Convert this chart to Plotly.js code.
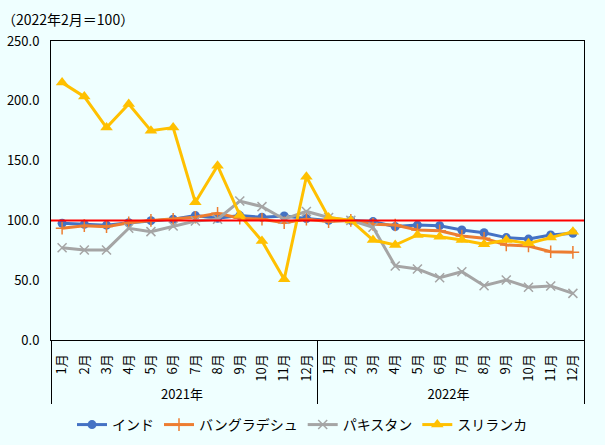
<!DOCTYPE html>
<html>
<head>
<meta charset="utf-8">
<script src="https://cdn.plot.ly/plotly-3.0.1.min.js"></script>
<style>
  body { margin: 0; padding: 0; background: #EFFFFF; }
  #chart { width: 605px; height: 445px; }
</style>
</head>
<body>
<div id="chart"></div>
<script>
// 月・年のカテゴリ
const months = ['1月','2月','3月','4月','5月','6月','7月','8月','9月','10月','11月','12月'];
const years = ['2021年', '2022年'];

// 指数（2022年2月＝100）
const india      = [97.6, 96.7, 96.0, 98.0, 99.8, 101.0, 104.0, 101.8, 104.0, 102.6, 103.7, 101.5,
                    100.0, 100.0, 99.0, 94.8, 96.1, 95.6, 92.0, 89.7, 85.6, 84.4, 87.8, 89.2];
const bangladesh = [93.4, 95.6, 94.8, 98.0, 100.0, 101.0, 102.6, 106.0, 101.8, 101.0, 98.0, 101.0,
                    99.0, 100.0, 96.7, 96.1, 92.0, 91.4, 87.0, 85.0, 79.4, 78.6, 73.8, 73.3];
const pakistan   = [77.2, 75.3, 75.3, 93.4, 90.6, 95.3, 99.5, 101.0, 116.2, 111.5, 101.0, 107.5,
                    102.5, 100.0, 94.2, 61.9, 59.4, 52.1, 57.1, 45.4, 50.2, 44.1, 45.2, 39.0];
const srilanka   = [215.2, 203.5, 177.6, 197.3, 175.0, 177.6, 115.1, 145.7, 104.5, 82.8, 50.7, 136.5,
                    102.5, 100.0, 83.6, 79.4, 87.8, 86.4, 83.6, 80.0, 83.6, 80.8, 85.6, 90.6];

const seriesNames = ['インド', 'バングラデシュ', 'パキスタン', 'スリランカ'];

// multicategory 用の x 軸
const xYears = [];
const xMonths = [];
years.forEach(function (y) {
  months.forEach(function (m) {
    xYears.push(y);
    xMonths.push(m);
  });
});
const xcat = [xYears, xMonths];

const FONT = '"Noto Sans CJK JP", "DejaVu Sans", sans-serif';

var data = [
  {
    x: xcat, y: india, name: seriesNames[0], mode: 'lines+markers',
    line: { color: '#4472C4', width: 3 },
    marker: { symbol: 'circle', size: 9, color: '#4472C4' }
  },
  {
    x: xcat, y: bangladesh, name: seriesNames[1], mode: 'lines+markers',
    line: { color: '#ED7D31', width: 3 },
    marker: { symbol: 'cross-thin', size: 9, line: { color: '#ED7D31', width: 1.5 } }
  },
  {
    x: xcat, y: pakistan, name: seriesNames[2], mode: 'lines+markers',
    line: { color: '#A5A5A5', width: 3 },
    marker: { symbol: 'x-thin', size: 9, line: { color: '#A5A5A5', width: 1.5 } }
  },
  {
    x: xcat, y: srilanka, name: seriesNames[3], mode: 'lines+markers',
    line: { color: '#FFC000', width: 3 },
    marker: { symbol: 'triangle-up', size: 11, color: '#FFC000' }
  }
];

var layout = {
  width: 605,
  height: 445,
  paper_bgcolor: '#EFFFFF',
  plot_bgcolor: '#EFFFFF',
  font: { family: FONT, size: 13, color: '#000' },
  margin: { l: 51, r: 21, t: 41, b: 105 },
  showlegend: true,
  legend: {
    orientation: 'h',
    xref: 'container', yref: 'container',
    x: 0.5, xanchor: 'center',
    y: 0.045, yanchor: 'middle',
    font: { family: FONT, size: 14 },
    bgcolor: 'rgba(0,0,0,0)',
    itemwidth: 30,
    tracegroupgap: 0
  },
  xaxis: {
    type: 'multicategory',
    range: [-0.5, 23.5],
    automargin: false,
    showline: true, linecolor: '#000', linewidth: 1,
    mirror: true,
    showgrid: false,
    ticks: '',
    tickangle: -90,
    ticklabelstandoff: 8,
    showdividers: true,
    dividercolor: '#000',
    dividerwidth: 1,
    tickfont: { family: FONT, size: 13 }
  },
  yaxis: {
    range: [0, 250],
    dtick: 50,
    tickformat: '.1f',
    automargin: false,
    showline: true, linecolor: '#000', linewidth: 1,
    mirror: true,
    showgrid: false,
    zeroline: false,
    ticks: '',
    ticklabelstandoff: 8,
    tickfont: { family: FONT, size: 13 }
  },
  shapes: [
    {
      type: 'line', xref: 'paper', x0: 0, x1: 1, yref: 'y', y0: 100, y1: 100,
      line: { color: '#FF0000', width: 2 }
    }
  ],
  annotations: [
    {
      text: '（2022年2月＝100）', xref: 'paper', yref: 'paper',
      x: -0.095, y: 1.075, xanchor: 'left', yanchor: 'middle',
      showarrow: false, font: { family: FONT, size: 14 }
    }
  ]
};

var config = { staticPlot: true, displayModeBar: false };

Plotly.newPlot('chart', data, layout, config);
</script>
</body>
</html>
